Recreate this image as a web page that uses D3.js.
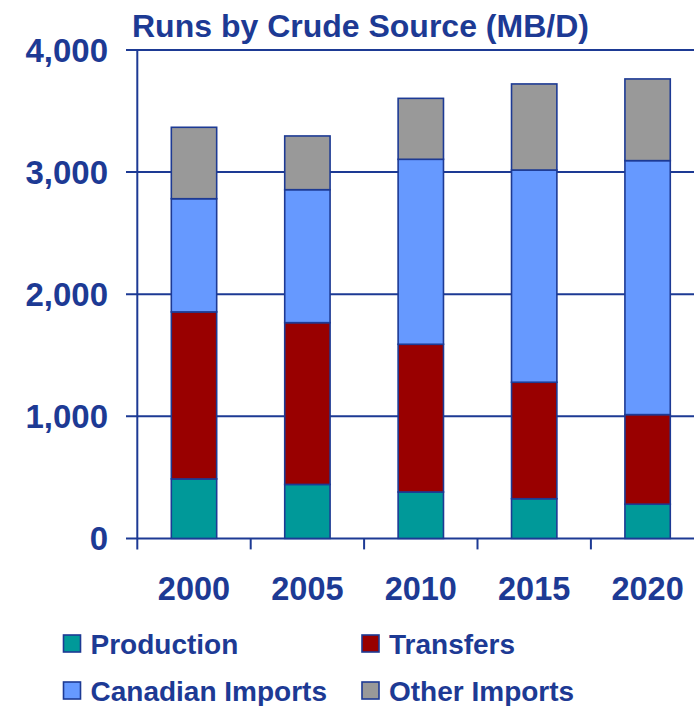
<!DOCTYPE html>
<html>
<head>
<meta charset="utf-8">
<script src="https://cdn.jsdelivr.net/npm/d3@7"></script>
<style>
  body { margin: 0; background: #fff; }
  svg { display: block; }
</style>
</head>
<body>
<script>
// data (MB/D)
var years = ["2000", "2005", "2010", "2015", "2020"];
var production = [487, 442, 380, 325, 280];
var transfers = [1368, 1325, 1210, 954, 734];
var canadianImports = [927, 1089, 1515, 1738, 2080];
var otherImports = [585, 440, 499, 705, 669];
var yTicks = [0, 1000, 2000, 3000, 4000];

var seriesNames = ["Production", "Transfers", "Canadian Imports", "Other Imports"];
var seriesColors = ["#009999", "#990000", "#6699ff", "#999999"];

var ink = "#1d3a94";
var font = "'Liberation Sans', Arial, sans-serif";

var svg = d3.select("body").append("svg")
            .attr("width", 694)
            .attr("height", 706);

var x = d3.scaleBand()
          .domain(years)
          .range([137.3, 704.3])
          .paddingInner(0.6)
          .paddingOuter(0.3);

var y = d3.scaleLinear()
          .domain([0, 4000])
          .range([538.4, 50]);

// stacked rows
var rows = years.map(function (yr, i) {
  return { year: yr, "Production": production[i], "Transfers": transfers[i],
           "Canadian Imports": canadianImports[i], "Other Imports": otherImports[i] };
});
var stacked = d3.stack().keys(seriesNames)(rows);

// gridlines + y tick labels
svg.append("g").selectAll("line")
   .data(yTicks)
   .enter().append("line")
   .attr("x1", 126)
   .attr("x2", 694)
   .attr("y1", function (d) { return y(d); })
   .attr("y2", function (d) { return y(d); })
   .attr("stroke", ink)
   .attr("stroke-width", 2);

svg.append("g").selectAll("text")
   .data(yTicks)
   .enter().append("text")
   .attr("x", 108)
   .attr("y", function (d) { return y(d); })
   .attr("dy", "0.36em")
   .attr("text-anchor", "end")
   .attr("font-family", font)
   .attr("font-weight", "bold")
   .attr("font-size", 33)
   .attr("fill", ink)
   .text(function (d) { return d3.format(",")(d); });

// y axis line
svg.append("line")
   .attr("x1", 137.3).attr("x2", 137.3)
   .attr("y1", y(4000)).attr("y2", y(0) + 11)
   .attr("stroke", ink)
   .attr("stroke-width", 2);

// x ticks between the categories
svg.append("g").selectAll("line")
   .data(years.slice(1))
   .enter().append("line")
   .attr("x1", function (d) { return x(d) - x.step() * x.paddingInner() / 2; })
   .attr("x2", function (d) { return x(d) - x.step() * x.paddingInner() / 2; })
   .attr("y1", y(0))
   .attr("y2", y(0) + 11)
   .attr("stroke", ink)
   .attr("stroke-width", 2);

// bars
svg.append("g").selectAll("g")
   .data(stacked)
   .enter().append("g")
   .attr("fill", function (d, i) { return seriesColors[i]; })
   .selectAll("rect")
   .data(function (d) { return d; })
   .enter().append("rect")
   .attr("x", function (d) { return x(d.data.year); })
   .attr("width", x.bandwidth())
   .attr("y", function (d) { return y(d[1]); })
   .attr("height", function (d) { return y(d[0]) - y(d[1]); })
   .attr("stroke", ink)
   .attr("stroke-width", 1.6);

// year labels
svg.append("g").selectAll("text")
   .data(years)
   .enter().append("text")
   .attr("x", function (d) { return x(d) + x.bandwidth() / 2; })
   .attr("y", 600)
   .attr("text-anchor", "middle")
   .attr("font-family", font)
   .attr("font-weight", "bold")
   .attr("font-size", 32.5)
   .attr("fill", ink)
   .text(function (d) { return d; });

// title
svg.append("text")
   .attr("x", 132)
   .attr("y", 36.5)
   .attr("font-family", font)
   .attr("font-weight", "bold")
   .attr("font-size", 32)
   .attr("fill", ink)
   .text("Runs by Crude Source (MB/D)");

// legend, 2 x 2
var legend = svg.append("g").selectAll("g")
   .data(seriesNames)
   .enter().append("g")
   .attr("transform", function (d, i) {
     return "translate(" + (i % 2 === 0 ? 63.5 : 362) + "," + (i < 2 ? 635 : 682) + ")";
   });

legend.append("rect")
      .attr("width", 17)
      .attr("height", 17)
      .attr("fill", function (d, i) { return seriesColors[i]; })
      .attr("stroke", ink)
      .attr("stroke-width", 1.6);

legend.append("text")
      .attr("x", 27)
      .attr("y", 19)
      .attr("font-family", font)
      .attr("font-weight", "bold")
      .attr("font-size", 28)
      .attr("fill", ink)
      .text(function (d) { return d; });
</script>
</body>
</html>
